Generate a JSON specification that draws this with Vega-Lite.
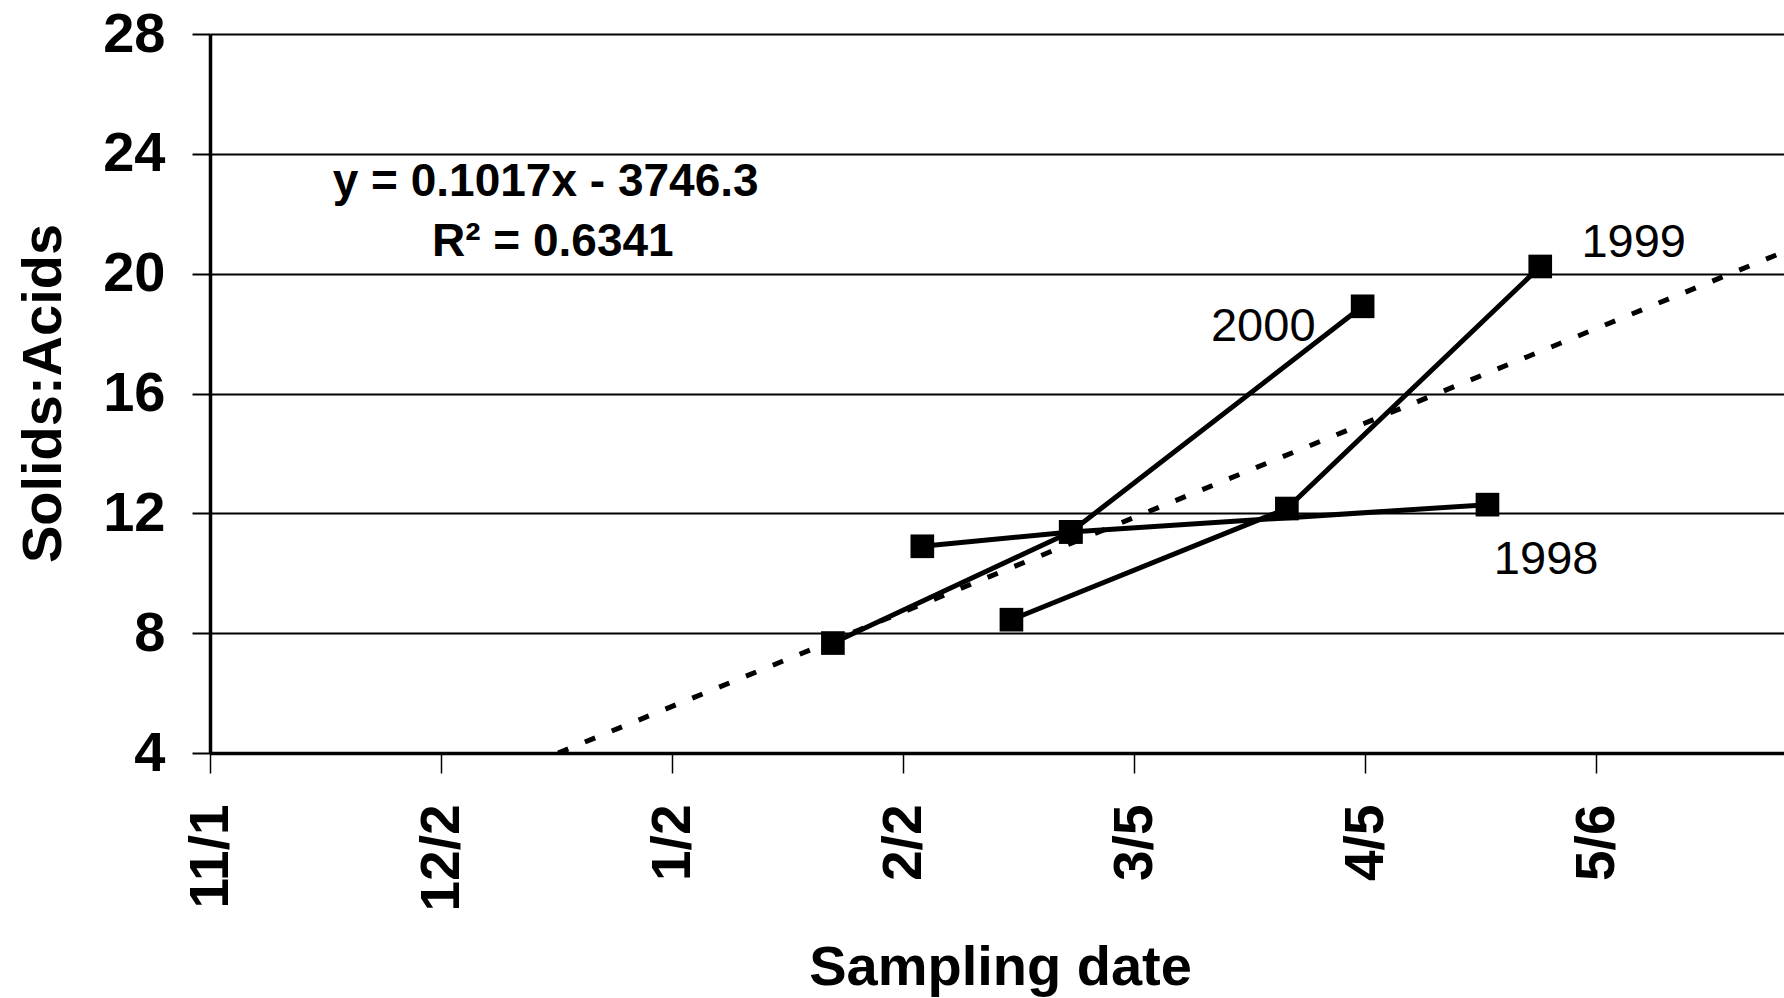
{
  "$schema": "https://vega.github.io/schema/vega-lite/v6.json",
  "autosize": {"type": "none"},
  "padding": {"left": 210, "top": 34, "right": 0, "bottom": 245},
  "width": 1574,
  "height": 719,
  "background": "white",
  "config": {
    "view": {"stroke": null},
    "font": "Liberation Sans"
  },
  "datasets": {
    "series": [
      {"year": "2000", "date": "2001-01-23T14:00", "v": 7.67},
      {"year": "2000", "date": "2001-02-24T12:00", "v": 11.38},
      {"year": "2000", "date": "2001-04-04T16:00", "v": 18.91},
      {"year": "1999", "date": "2001-02-16T13:00", "v": 8.45},
      {"year": "1999", "date": "2001-03-25T12:00", "v": 12.16},
      {"year": "1999", "date": "2001-04-28T12:00", "v": 20.24},
      {"year": "1998", "date": "2001-02-04T14:00", "v": 10.9},
      {"year": "1998", "date": "2001-02-24T12:00", "v": 11.38},
      {"year": "1998", "date": "2001-04-21T10:00", "v": 12.29}
    ],
    "trend": [
      {"date": "2000-12-17T17:00", "v": 4.0},
      {"date": "2001-05-31T05:00", "v": 20.73}
    ],
    "equation": [
      {"date": "2000-12-16T01:00", "v": 22.58, "t": "y = 0.1017x - 3746.3"},
      {"date": "2000-12-17T00:00", "v": 20.58, "t": "R² = 0.6341"}
    ],
    "names": [
      {"date": "2001-05-11T01:00", "v": 20.57, "t": "1999"},
      {"date": "2001-03-22T08:00", "v": 17.74, "t": "2000"},
      {"date": "2001-04-29T07:00", "v": 9.98, "t": "1998"}
    ]
  },
  "encoding": {
    "x": {
      "field": "date",
      "type": "temporal",
      "scale": {
        "domain": [
          {"year": 2000, "month": 11, "date": 1},
          {"year": 2001, "month": 5, "date": 31, "hours": 5}
        ]
      },
      "axis": {
        "values": [
          {"year": 2000, "month": 11, "date": 1},
          {"year": 2000, "month": 12, "date": 2},
          {"year": 2001, "month": 1, "date": 2},
          {"year": 2001, "month": 2, "date": 2},
          {"year": 2001, "month": 3, "date": 5},
          {"year": 2001, "month": 4, "date": 5},
          {"year": 2001, "month": 5, "date": 6}
        ],
        "format": "%-m/%-d",
        "labelAngle": 270,
        "labelFontSize": 55,
        "labelFontWeight": "bold",
        "labelColor": "black",
        "labelPadding": 31,
        "labelFlush": false,
        "labelOverlap": false,
        "tickSize": 20,
        "tickWidth": 1.5,
        "tickColor": "black",
        "domainColor": "black",
        "domainWidth": 3.5,
        "grid": false,
        "title": "Sampling date",
        "titleFontSize": 56,
        "titleFontWeight": "bold",
        "titleColor": "black",
        "titleX": 790,
        "titleY": 231,
        "titleBaseline": "alphabetic",
        "titleAlign": "center"
      }
    },
    "y": {
      "field": "v",
      "type": "quantitative",
      "scale": {"domain": [4, 28], "nice": false, "zero": false},
      "axis": {
        "values": [4, 8, 12, 16, 20, 24, 28],
        "grid": true,
        "gridColor": "black",
        "gridWidth": 2,
        "gridOpacity": 1,
        "tickSize": 18,
        "tickWidth": 2,
        "tickColor": "black",
        "domainColor": "black",
        "domainWidth": 3.5,
        "labelFontSize": 56,
        "labelFontWeight": "bold",
        "labelColor": "black",
        "labelPadding": 27,
        "labelFlush": false,
        "labelOverlap": false,
        "title": "Solids:Acids",
        "titleFontSize": 56,
        "titleFontWeight": "bold",
        "titleColor": "black",
        "titleAngle": 270,
        "titleX": -150,
        "titleY": 359,
        "titleBaseline": "alphabetic",
        "titleAlign": "center"
      }
    }
  },
  "layer": [
    {
      "data": {"name": "trend"},
      "mark": {"type": "line", "color": "black", "strokeWidth": 5, "strokeDash": [11, 18], "clip": true}
    },
    {
      "data": {"name": "series"},
      "mark": {"type": "line", "color": "black", "strokeWidth": 5},
      "encoding": {"detail": {"field": "year"}}
    },
    {
      "data": {"name": "series"},
      "mark": {"type": "point", "shape": "square", "filled": true, "size": 560, "color": "black", "opacity": 1}
    },
    {
      "data": {"name": "equation"},
      "mark": {"type": "text", "fontSize": 46, "fontWeight": "bold", "align": "center", "baseline": "alphabetic", "color": "black"},
      "encoding": {"text": {"field": "t"}}
    },
    {
      "data": {"name": "names"},
      "mark": {"type": "text", "fontSize": 47, "align": "center", "baseline": "alphabetic", "color": "black"},
      "encoding": {"text": {"field": "t"}}
    }
  ]
}
